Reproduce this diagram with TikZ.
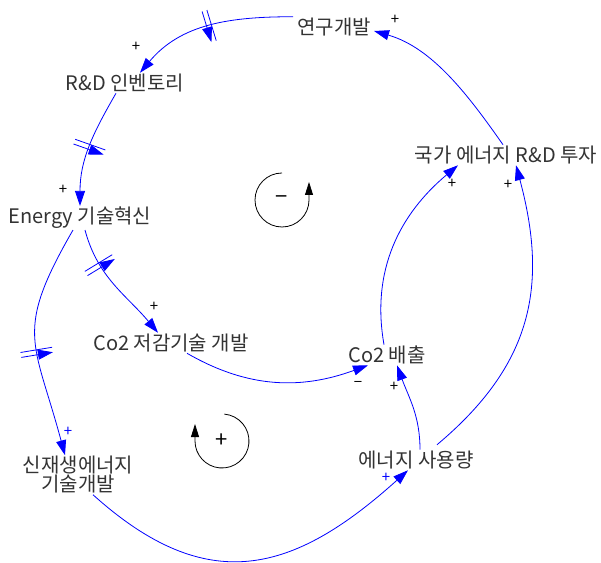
\documentclass[tikz,border=0pt]{standalone}
\usepackage{fontspec}
\setmainfont{Noto Sans CJK KR}
\usetikzlibrary{arrows.meta,decorations.markings}
\definecolor{cldBlue}{HTML}{0000FF}
\definecolor{cldText}{HTML}{333333}
\tikzset{
  % Variables: plain text, no frame.
  cld/var/.style={font=\fontsize{20}{19}\selectfont, text=cldText, inner sep=1pt, align=center},
  % Causal links.
  cld/link/.style={-{Triangle[length=15pt,width=10pt]}, draw=cldBlue, line width=0.8pt},
  % Delay mark: two long strokes across the link.
  cld/delaymark/.style={postaction={decorate}, decoration={markings, mark=at position #1 with {
      \draw[cldBlue, line width=0.8pt] (-2.5pt,-16pt) -- (-2.5pt,16pt) (2.5pt,-16pt) -- (2.5pt,16pt);}}},
  cld/delaymark/.default=0.5,
  % Link polarity.
  cld/sign/.style={font=\fontsize{15}{15}\selectfont, text=black, inner sep=0pt},
  % Loop marker.
  cld/loopsym/.style={-{Triangle[length=13pt,width=8pt]}, draw=black, line width=0.8pt},
  cld/loopsign/.style={font=\fontsize{22}{22}\selectfont, text=black, inner sep=0pt},
}

\begin{document}
\begin{tikzpicture}[x=1pt,y=1pt]
  \useasboundingbox (0,0) rectangle (601,562);

  \node[cld/var] (yg)     at (334,535) {연구개발};
  \node[cld/var] (inv)    at (125,479) {R\&D 인벤토리};
  \node[cld/var] (inno)   at (80,344)  {Energy 기술혁신};
  \node[cld/var] (invest) at (506,407) {국가 에너지 R\&D 투자};
  \node[cld/var] (redu)   at (171,219) {Co2 저감기술 개발};
  \node[cld/var] (emis)   at (387,207) {Co2 배출};
  \node[cld/var] (renew)  at (78,87)   {신재생에너지\\기술개발};
  \node[cld/var] (use)    at (416,102) {에너지 사용량};

  \draw[cld/link, cld/delaymark=0.5] ([xshift=-41pt]yg.north) to[out=180,in=50] ([xshift=15pt]inv.north);
  \draw[cld/link, cld/delaymark=0.5] ([xshift=-9pt]inv.south) to[out=240,in=90] (inno.north);
  \draw[cld/link, cld/delaymark=0.3] ([xshift=5pt]inno.south) to[out=285,in=130] ([xshift=-13pt]redu.north);
  \draw[cld/link, cld/delaymark=0.55] ([xshift=-7pt]inno.south) to[out=240,in=105,looseness=1.35] ([xshift=-13pt]renew.north);
  \draw[cld/link] ([xshift=15pt]renew.south) to[out=-42,in=222,looseness=1.25] ([xshift=-8pt]use.south);
  \draw[cld/link] ([xshift=16pt]redu.south) to[out=-30,in=200] ([xshift=-19pt]emis.south);
  \draw[cld/link] ([xshift=4pt]use.north) to[out=90,in=-70] ([xshift=10pt]emis.south);
  \draw[cld/link] ([xshift=21pt,yshift=5pt]use.north) to[out=40,in=-75,looseness=1.1] ([xshift=10pt]invest.south);
  \draw[cld/link] ([xshift=-3pt]emis.north) to[out=100,in=220] ([xshift=-48pt]invest.south);
  \draw[cld/link] ([xshift=-3pt]invest.north) to[out=125,in=-16,looseness=0.9] ([xshift=2pt,yshift=-4pt]yg.east);

  \node[cld/sign] (s1) at (136,515) {+};
  \node[cld/sign] (s2) at (63,372)  {+};
  \node[cld/sign] (s3) at (395,542) {+};
  \node[cld/sign] (s4) at (452,378) {+};
  \node[cld/sign] (s5) at (508,377) {+};
  \node[cld/sign] (s6) at (154,255) {+};
  \node[cld/sign, text=cldBlue] (s7) at (68,130) {+};
  \node[cld/sign] (s8) at (358,178) {−};
  \node[cld/sign] (s9) at (394,175) {+};
  \node[cld/sign, text=cldBlue] (s10) at (386,84) {+};

  % loop markers
  \node[cld/loopsign] (bal) at (282,362) {−};
  \draw[cld/loopsym] ([shift={(90:27)}]bal.center) arc[start angle=90,end angle=360,radius=27] -- ++(0,18);
  \node[cld/loopsign] (rein) at (222,121) {+};
  \draw[cld/loopsym] ([shift={(85:27)}]rein.center) arc[start angle=85,end angle=-180,radius=27] -- ++(0,17);
\end{tikzpicture}
\end{document}
